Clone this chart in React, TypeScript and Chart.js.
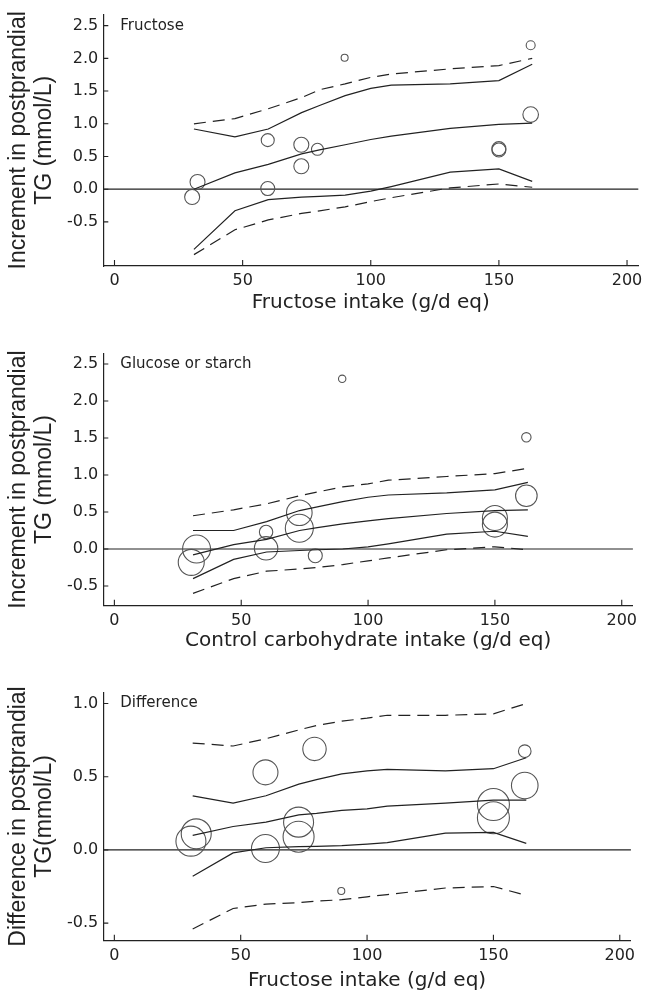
import React, { useEffect, useRef } from "react";
import { Chart, registerables } from "chart.js";

Chart.register(...registerables);

// ---------- shared data ----------
const studyX = [30.3, 32.4, 59.8, 59.8, 72.9, 72.9, 79.2, 89.8, 150, 150, 162.4, 162.4];
const fitX = [31, 47, 60, 73, 80, 90, 100, 108, 131, 150, 163];
const xTickValues = [0, 50, 100, 150, 200];

// ---------- panel 1: fructose ----------
const fruY = [-0.12, 0.11, 0.75, 0.01, 0.68, 0.35, 0.61, 2.01, 0.62, 0.6, 2.2, 1.14];
const fruR = [7.5, 7.5, 6.5, 7, 7.5, 7.5, 6, 3.5, 7, 7, 4.5, 7.8];
const fruFit = [0.0, 0.25, 0.38, 0.54, 0.6, 0.68, 0.76, 0.81, 0.93, 0.99, 1.01];
const fruCiUp = [0.92, 0.8, 0.92, 1.17, 1.28, 1.43, 1.54, 1.59, 1.61, 1.66, 1.91];
const fruCiLo = [-0.92, -0.33, -0.16, -0.12, -0.11, -0.09, -0.03, 0.04, 0.26, 0.31, 0.12];
const fruPiUp = [1.0, 1.08, 1.23, 1.4, 1.52, 1.61, 1.71, 1.76, 1.84, 1.89, 2.0];
const fruPiLo = [-1.0, -0.62, -0.47, -0.37, -0.33, -0.27, -0.19, -0.13, 0.02, 0.08, 0.03];
const fruYTicks = [-0.5, 0, 0.5, 1.0, 1.5, 2.0, 2.5];

// ---------- panel 2: glucose or starch ----------
const gluY = [-0.18, 0.0, 0.23, 0.01, 0.49, 0.28, -0.09, 2.3, 0.42, 0.33, 1.51, 0.72];
const gluR = [13, 14, 6.7, 11.7, 12.8, 14, 7, 3.7, 12.5, 12.5, 4.7, 10.8];
const gluFit = [-0.08, 0.06, 0.13, 0.25, 0.29, 0.34, 0.38, 0.41, 0.48, 0.52, 0.53];
const gluCiUp = [0.25, 0.25, 0.37, 0.52, 0.57, 0.64, 0.7, 0.73, 0.76, 0.8, 0.9];
const gluCiLo = [-0.4, -0.14, -0.04, -0.02, -0.01, 0.0, 0.03, 0.07, 0.2, 0.24, 0.17];
const gluPiUp = [0.45, 0.53, 0.61, 0.72, 0.77, 0.84, 0.88, 0.93, 0.98, 1.02, 1.09];
const gluPiLo = [-0.6, -0.4, -0.3, -0.27, -0.25, -0.21, -0.16, -0.12, -0.01, 0.03, -0.01];
const gluYTicks = [-0.5, 0, 0.5, 1.0, 1.5, 2.0, 2.5];

// ---------- panel 3: difference ----------
const difY = [0.06, 0.11, 0.53, 0.01, 0.19, 0.09, 0.69, -0.28, 0.31, 0.22, 0.675, 0.44];
const difR = [15, 15, 12.5, 14, 15, 15.5, 11.7, 3.5, 16, 16, 6.3, 13.3];
const difFit = [0.1, 0.16, 0.19, 0.24, 0.25, 0.27, 0.28, 0.3, 0.32, 0.34, 0.34];
const difCiUp = [0.37, 0.32, 0.37, 0.45, 0.48, 0.52, 0.54, 0.55, 0.54, 0.555, 0.63];
const difCiLo = [-0.18, -0.02, 0.015, 0.023, 0.025, 0.03, 0.04, 0.05, 0.115, 0.12, 0.045];
const difPiUp = [0.73, 0.71, 0.76, 0.82, 0.85, 0.88, 0.9, 0.92, 0.92, 0.93, 1.0];
const difPiLo = [-0.54, -0.4, -0.37, -0.36, -0.35, -0.34, -0.32, -0.305, -0.26, -0.25, -0.31];
const difYTicks = [-0.5, 0, 0.5, 1.0];

const INK = "#222";
const CIRCLE = "#555";
const TICK_FONT = { family: "'DejaVu Sans', sans-serif", size: 16 };

type Panel = {
  label: string;
  yTitle: string[];
  xTitle: string;
  ys: number[];
  rs: number[];
  fit: number[];
  ciUp: number[];
  ciLo: number[];
  piUp: number[];
  piLo: number[];
  yTicks: number[];
  yMin: number;
  yMax: number;
  top: number;
  height: number;
  padTop: number;
  xHeight: number;
  xTitlePad: number;
};

const panels: Panel[] = [
  {
    label: "Fructose",
    yTitle: ["Increment in postprandial", "TG (mmol/L)"],
    xTitle: "Fructose intake (g/d eq)",
    ys: fruY, rs: fruR, fit: fruFit, ciUp: fruCiUp, ciLo: fruCiLo, piUp: fruPiUp, piLo: fruPiLo,
    yTicks: fruYTicks, yMin: -1.174, yMax: 2.669,
    top: 0, height: 320, padTop: 14, xHeight: 54, xTitlePad: 5,
  },
  {
    label: "Glucose or starch",
    yTitle: ["Increment in postprandial", "TG (mmol/L)"],
    xTitle: "Control carbohydrate intake (g/d eq)",
    ys: gluY, rs: gluR, fit: gluFit, ciUp: gluCiUp, ciLo: gluCiLo, piUp: gluPiUp, piLo: gluPiLo,
    yTicks: gluYTicks, yMin: -0.766, yMax: 2.645,
    top: 330, height: 330, padTop: 23.3, xHeight: 54.3, xTitlePad: 7.5,
  },
  {
    label: "Difference",
    yTitle: ["Difference in postprandial", "TG(mmol/L)"],
    xTitle: "Fructose intake (g/d eq)",
    ys: difY, rs: difR, fit: difFit, ciUp: difCiUp, ciLo: difCiLo, piUp: difPiUp, piLo: difPiLo,
    yTicks: difYTicks, yMin: -0.62, yMax: 1.077,
    top: 660, height: 335, padTop: 32.3, xHeight: 54.3, xTitlePad: 2,
  },
];

const decorPlugin = {
  id: "decor",
  beforeDatasetsDraw(chart: any) {
    const { ctx, chartArea, scales } = chart;
    const y = scales.y;
    ctx.save();
    ctx.strokeStyle = INK;
    ctx.lineWidth = 1.2;
    const y0 = y.getPixelForValue(0);
    ctx.beginPath();
    ctx.moveTo(chartArea.left, y0);
    ctx.lineTo(chartArea.right, y0);
    ctx.stroke();
    ctx.restore();
  },
  afterDatasetsDraw(chart: any, _args: any, opts: any) {
    const { ctx, chartArea, scales } = chart;
    const x = scales.x;
    const y = scales.y;
    ctx.save();
    ctx.strokeStyle = INK;
    ctx.lineWidth = 1.1;
    ctx.beginPath();
    for (const t of x.ticks) {
      const px = x.getPixelForValue(t.value);
      ctx.moveTo(px, chartArea.bottom);
      ctx.lineTo(px, chartArea.bottom - 6);
    }
    for (const t of y.ticks) {
      const py = y.getPixelForValue(t.value);
      ctx.moveTo(chartArea.left, py);
      ctx.lineTo(chartArea.left + 5, py);
    }
    ctx.stroke();
    ctx.fillStyle = INK;
    ctx.font = "15px 'DejaVu Sans', sans-serif";
    ctx.textAlign = "left";
    ctx.textBaseline = "middle";
    ctx.fillText(opts.text, chartArea.left + 17, y.getPixelForValue(opts.at));
    ctx.restore();
  },
};

function PanelChart({ p }: { p: Panel }) {
  const ref = useRef<HTMLCanvasElement | null>(null);
  useEffect(() => {
    if (!ref.current) return;
    const line = (arr: number[], dashed: boolean) => ({
      type: "line" as const,
      data: fitX.map((x, i) => ({ x, y: arr[i] })),
      borderColor: INK,
      borderWidth: 1.2,
      borderDash: dashed ? [12, 7] : [],
      pointRadius: 0,
      fill: false,
      tension: 0,
    });
    const chart = new Chart(ref.current, {
      type: "bubble",
      data: {
        datasets: [
          line(p.piUp, true),
          line(p.ciUp, false),
          line(p.fit, false),
          line(p.ciLo, false),
          line(p.piLo, true),
          {
            type: "bubble",
            data: studyX.map((x, i) => ({ x, y: p.ys[i], r: p.rs[i] })),
            borderColor: CIRCLE,
            borderWidth: 1.1,
            backgroundColor: "rgba(0,0,0,0)",
            hoverRadius: 0,
          } as any,
        ],
      },
      options: {
        animation: false,
        responsive: false,
        events: [],
        layout: { padding: { top: p.padTop, left: 0, right: 9.6, bottom: 0 } },
        plugins: {
          legend: { display: false },
          tooltip: { enabled: false },
          decor: { text: p.label, at: p.yTicks[p.yTicks.length - 1] },
        } as any,
        scales: {
          x: {
            type: "linear",
            min: -4.37,
            max: 204.4,
            afterBuildTicks: (s: any) => {
              s.ticks = xTickValues.map((v) => ({ value: v }));
            },
            afterFit: (s: any) => {
              s.height = p.xHeight;
            },
            grid: { display: false, drawTicks: false },
            border: { display: true, color: INK, width: 1.2 },
            ticks: {
              color: INK,
              font: TICK_FONT,
              padding: 5.5,
              maxRotation: 0,
              autoSkip: false,
              callback: (v: any) => String(v),
            },
            title: {
              display: true,
              text: p.xTitle,
              color: INK,
              font: { family: "'DejaVu Sans', sans-serif", size: 20, lineHeight: 1.2 },
              padding: { top: 0, bottom: p.xTitlePad },
            },
          },
          y: {
            type: "linear",
            min: p.yMin,
            max: p.yMax,
            afterBuildTicks: (s: any) => {
              s.ticks = p.yTicks.map((v) => ({ value: v }));
            },
            afterFit: (s: any) => {
              s.width = 103.3;
            },
            grid: { display: false, drawTicks: false },
            border: { display: true, color: INK, width: 1.2 },
            ticks: {
              color: INK,
              font: TICK_FONT,
              padding: 5,
              autoSkip: false,
              callback: (v: any) => Number(v).toFixed(1),
            },
            title: {
              display: true,
              text: p.yTitle,
              color: INK,
              font: { family: "'Liberation Sans', Arial, sans-serif", size: 23, lineHeight: 1.1 },
              padding: { top: 6.5, bottom: 0 },
            },
          },
        },
      },
      plugins: [decorPlugin as any],
    } as any);
    return () => chart.destroy();
  }, [p]);
  return (
    <canvas
      ref={ref}
      width={648}
      height={p.height}
      style={{ position: "absolute", left: 0, top: p.top, width: 648, height: p.height }}
    />
  );
}

export default function App() {
  return (
    <div style={{ position: "absolute", left: 0, top: 0, width: 648, height: 995, background: "#fff" }}>
      {panels.map((p, i) => (
        <PanelChart key={i} p={p} />
      ))}
    </div>
  );
}
